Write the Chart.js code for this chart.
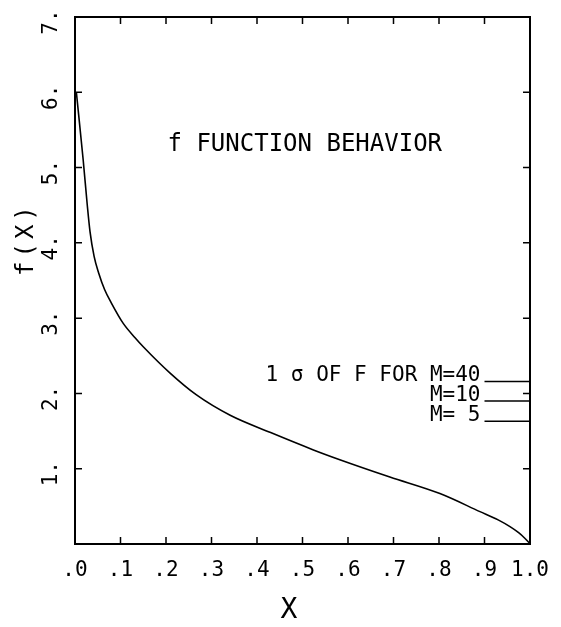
<!DOCTYPE html>
<html>
<head>
<meta charset="utf-8">
<title>f function behavior</title>
<script src="https://cdn.jsdelivr.net/npm/chart.js@4.4.1/dist/chart.umd.min.js"></script>
<style>
  html, body { margin: 0; padding: 0; background: #fff; }
</style>
</head>
<body>
<canvas id="fChart" width="561" height="627"></canvas>
<script>
// f(X) curve, values
const xValues = [0.003, 0.018, 0.027, 0.033, 0.042, 0.052, 0.065, 0.080, 0.106, 0.132, 0.150,
  0.209, 0.267, 0.341, 0.430, 0.524, 0.582, 0.692, 0.802, 0.890, 0.930, 0.956, 0.975, 0.988, 0.996, 1.0];
const fValues = [6.00, 5.10, 4.50, 4.15, 3.82, 3.60, 3.38, 3.20, 2.93, 2.74, 2.62,
  2.27, 1.98, 1.71, 1.48, 1.25, 1.12, 0.89, 0.67, 0.43, 0.32, 0.23, 0.15, 0.08, 0.03, 0.0];

// 1 sigma of F for each M
const sigmaLabels = ["M=40", "M=10", "M= 5"];
const sigmaValues = [2.16, 1.90, 1.63];
const sigmaRange = [0.90, 1.0];

// axis ticks
const xTicks = [0, 0.1, 0.2, 0.3, 0.4, 0.5, 0.6, 0.7, 0.8, 0.9, 1.0];
const xTickLabels = [".0", ".1", ".2", ".3", ".4", ".5", ".6", ".7", ".8", ".9", "1.0"];
const yTicks = [1, 2, 3, 4, 5, 6, 7];
const yTickLabels = ["1.", "2.", "3.", "4.", "5.", "6.", "7."];

const FONT = "'DejaVu Sans Mono', monospace";

// draws the box, inward ticks and all the text (old plotter look)
const framePlugin = {
  id: "frame",
  afterDraw(chart) {
    const ctx = chart.ctx;
    const a = chart.chartArea;
    const xs = chart.scales.x;
    const ys = chart.scales.y;
    ctx.save();
    ctx.strokeStyle = "#000";
    ctx.fillStyle = "#000";

    // box
    ctx.lineWidth = 2;
    ctx.strokeRect(a.left, a.top, a.right - a.left, a.bottom - a.top);

    // tick marks, pointing inward on all four sides
    ctx.lineWidth = 1.5;
    ctx.beginPath();
    xTicks.forEach((v) => {
      if (v <= 0 || v >= 1) return;
      const px = xs.getPixelForValue(v);
      ctx.moveTo(px, a.bottom); ctx.lineTo(px, a.bottom - 7);
      ctx.moveTo(px, a.top); ctx.lineTo(px, a.top + 7);
    });
    yTicks.forEach((v) => {
      if (v >= 7) return;
      const py = ys.getPixelForValue(v);
      ctx.moveTo(a.left, py); ctx.lineTo(a.left + 7, py);
      ctx.moveTo(a.right, py); ctx.lineTo(a.right - 7, py);
    });
    ctx.stroke();

    // x tick labels
    ctx.font = "21px " + FONT;
    ctx.textAlign = "center";
    ctx.textBaseline = "alphabetic";
    xTicks.forEach((v, i) => {
      ctx.fillText(xTickLabels[i], xs.getPixelForValue(v), a.bottom + 32);
    });

    // y tick labels, rotated
    yTicks.forEach((v, i) => {
      ctx.save();
      ctx.translate(a.left - 18, ys.getPixelForValue(v) + 5);
      ctx.rotate(-Math.PI / 2);
      ctx.fillText(yTickLabels[i], 0, 0);
      ctx.restore();
    });

    // axis titles
    ctx.font = "28px " + FONT;
    ctx.fillText("X", xs.getPixelForValue(0.47), a.bottom + 74);

    ctx.save();
    ctx.font = "24px " + FONT;
    ctx.letterSpacing = "4px";
    ctx.translate(a.left - 42, ys.getPixelForValue(4.05));
    ctx.rotate(-Math.PI / 2);
    ctx.fillText("f(X)", 0, 0);
    ctx.restore();

    // title inside the plot
    ctx.font = "24px " + FONT;
    ctx.fillText("f FUNCTION BEHAVIOR", xs.getPixelForValue(0.505), ys.getPixelForValue(5.22));

    // sigma labels
    ctx.font = "21px " + FONT;
    ctx.textAlign = "right";
    const labelX = xs.getPixelForValue(sigmaRange[0]) - 4;
    sigmaValues.forEach((v, i) => {
      const text = i === 0 ? "1 \u03c3 OF F FOR " + sigmaLabels[i] : sigmaLabels[i];
      ctx.fillText(text, labelX, ys.getPixelForValue(v));
    });

    ctx.restore();
  },
};

document.addEventListener("DOMContentLoaded", () => {
  const canvas = document.getElementById("fChart").getContext("2d");

  const curve = xValues.map((x, i) => ({ x: x, y: fValues[i] }));
  const sigmaSets = sigmaValues.map((v, i) => ({
    label: sigmaLabels[i],
    data: sigmaRange.map((x) => ({ x: x, y: v })),
    borderColor: "#000",
    borderWidth: 1.5,
    pointRadius: 0,
  }));

  new Chart(canvas, {
    type: "line",
    data: {
      datasets: [
        {
          label: "f(X)",
          data: curve,
          borderColor: "#000",
          borderWidth: 1.6,
          pointRadius: 0,
          cubicInterpolationMode: "monotone",
        },
        ...sigmaSets,
      ],
    },
    options: {
      responsive: false,
      animation: false,
      layout: { padding: { left: 75, top: 17, right: 31, bottom: 83 } },
      scales: {
        x: { type: "linear", min: 0, max: 1, display: false },
        y: { type: "linear", min: 0, max: 7, display: false },
      },
      plugins: {
        legend: { display: false },
        tooltip: { enabled: false },
      },
    },
    plugins: [framePlugin],
  });
});
</script>
</body>
</html>
